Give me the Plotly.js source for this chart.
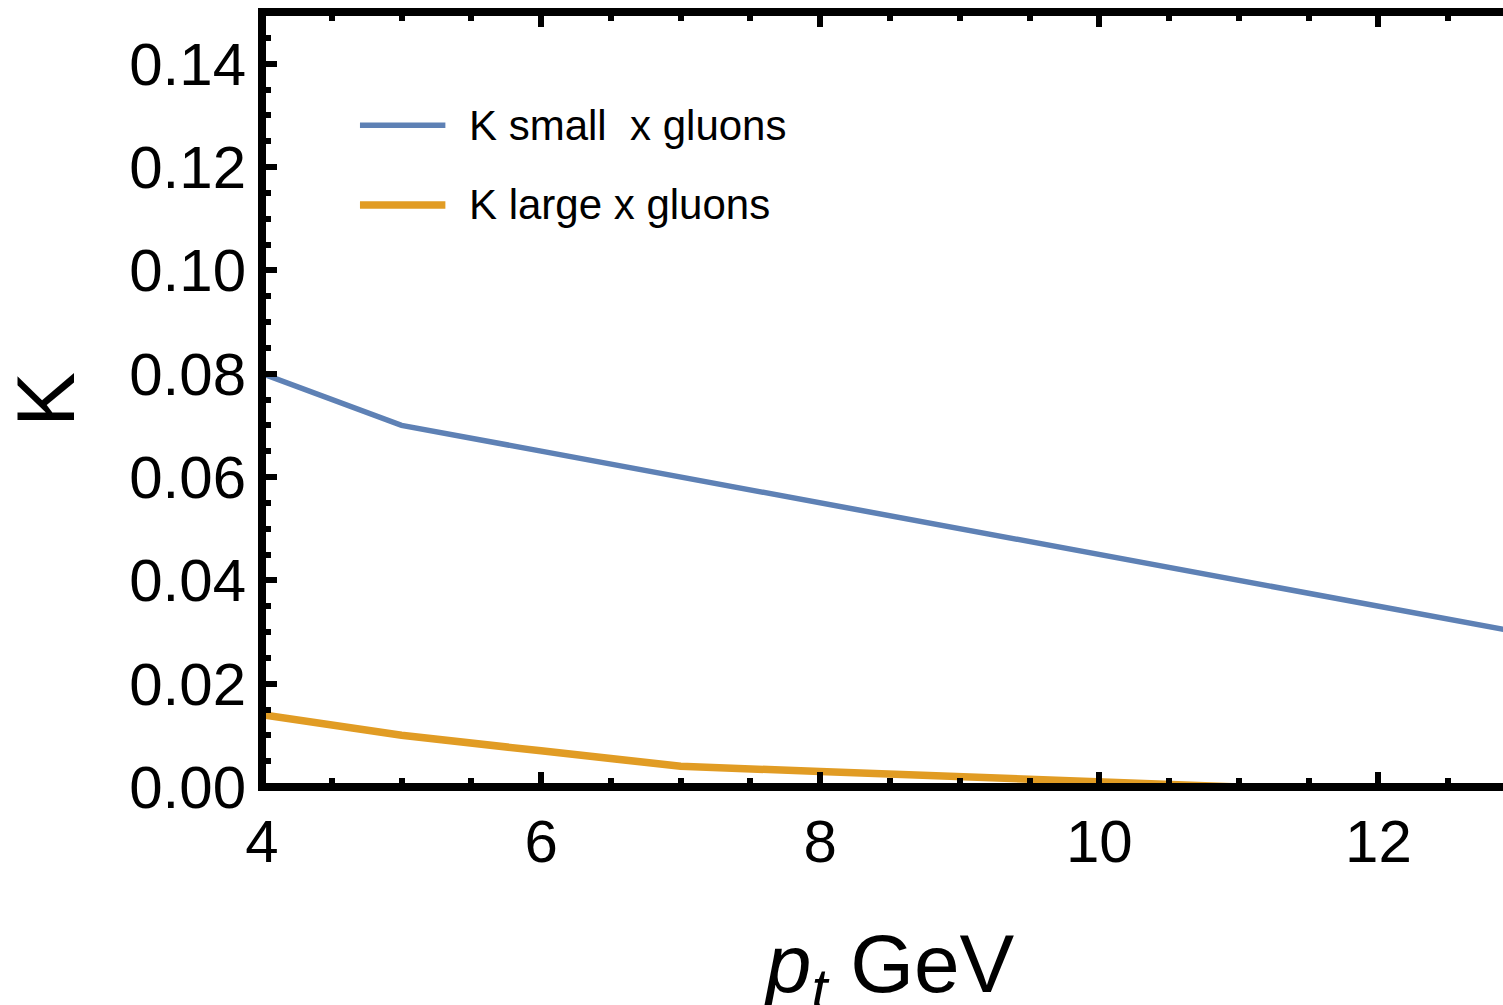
<!DOCTYPE html>
<html>
<head>
<meta charset="utf-8">
<script src="https://cdn.plot.ly/plotly-3.0.1.min.js"></script>
<style>
  html, body { margin: 0; padding: 0; background: #ffffff; overflow: hidden; }
  #chart { width: 1560px; height: 1030px; }
</style>
</head>
<body>
<div id="chart"></div>
<script>
// transverse momentum grid (GeV)
const pt = [4, 5, 6, 7, 8, 9, 10, 11, 12, 13];
// K factor, small-x gluon contribution
const kSmallX = [0.080, 0.070, 0.065, 0.060, 0.055, 0.050, 0.045, 0.040, 0.035, 0.030];
// K factor, large-x gluon contribution
const kLargeX = [0.014, 0.010, 0.007, 0.004, 0.003, 0.002, 0.001, 0.000, 0.000, 0.000];
const seriesNames = ["K small\u00a0 x gluons", "K large x gluons"];
const seriesColors = ["#5E81B5", "#E19C24"];
const seriesWidths = [5.5, 7.5];

const FONT = "Liberation Sans, Arial, sans-serif";

const traces = [
  { x: pt, y: kSmallX, name: seriesNames[0], mode: "lines",
    line: { color: seriesColors[0], width: seriesWidths[0] }, showlegend: false },
  { x: pt, y: kLargeX, name: seriesNames[1], mode: "lines",
    line: { color: seriesColors[1], width: seriesWidths[1] }, showlegend: false }
];

// hand-built legend: long sample lines with labels to their right
const legendY = [0.854, 0.751];
const shapes = [];
const annotations = [];
seriesNames.forEach((name, i) => {
  shapes.push({ type: "line", xref: "paper", yref: "paper",
    x0: 0.078, x1: 0.146, y0: legendY[i], y1: legendY[i],
    line: { color: seriesColors[i], width: seriesWidths[i] } });
  annotations.push({ xref: "paper", yref: "paper", x: 0.163, y: legendY[i],
    xanchor: "left", yanchor: "middle", showarrow: false, text: name,
    font: { family: FONT, size: 42, color: "#000" } });
});

// frame drawn centred on the plot-range boundary
shapes.push({ type: "rect", xref: "paper", yref: "paper", x0: 0, x1: 1, y0: 0, y1: 1,
  layer: "above", line: { color: "#000", width: 8 } });

const axisCommon = {
  showgrid: false, zeroline: false, showline: false,
  ticks: "inside", ticklen: 15, tickwidth: 6, tickcolor: "#000", mirror: "ticks",
  tickfont: { family: FONT, size: 60, color: "#000" }
};

const layout = {
  width: 1560, height: 1030,
  margin: { l: 262, r: 42, t: 12, b: 243 },
  paper_bgcolor: "#fff", plot_bgcolor: "#fff",
  xaxis: Object.assign({}, axisCommon, {
    range: [4, 13], tickvals: [4, 6, 8, 10, 12], ticktext: ["4", "6", "8", "10", "12"],
    ticklabelstandoff: 14,
    minor: { ticks: "inside", dtick: 0.5, tick0: 4, ticklen: 9, tickwidth: 6, tickcolor: "#000" },
    title: { text: "<i>p</i><sub><i>t</i></sub> GeV", standoff: 60,
      font: { family: FONT, size: 82, color: "#000" } }
  }),
  yaxis: Object.assign({}, axisCommon, {
    range: [0, 0.15], tickvals: [0, 0.02, 0.04, 0.06, 0.08, 0.10, 0.12, 0.14],
    ticktext: ["0.00", "0.02", "0.04", "0.06", "0.08", "0.10", "0.12", "0.14"],
    ticklabelstandoff: 15,
    minor: { ticks: "inside", dtick: 0.005, tick0: 0, ticklen: 9, tickwidth: 6, tickcolor: "#000" },
    title: { text: "K", standoff: 30, font: { family: FONT, size: 82, color: "#000" } }
  }),
  shapes: shapes,
  annotations: annotations
};

Plotly.newPlot("chart", traces, layout, { staticPlot: true, displayModeBar: false });
</script>
</body>
</html>
